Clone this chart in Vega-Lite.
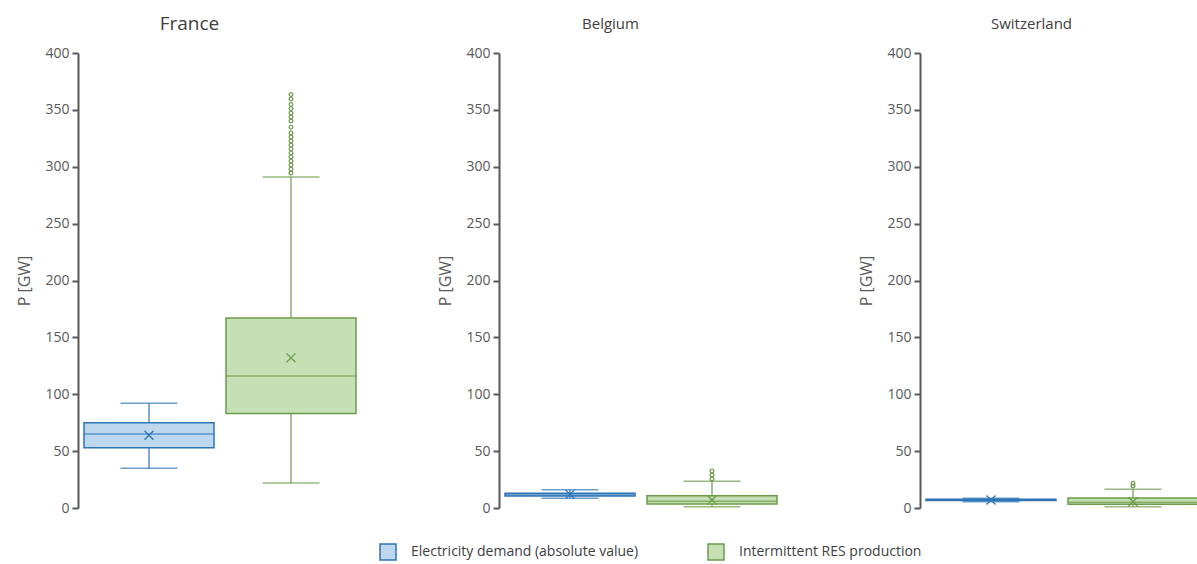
{
  "$schema": "https://vega.github.io/schema/vega-lite/v6.json",
  "padding": {"left": 16, "top": 15, "right": 0, "bottom": 5},
  "background": "white",
  "config": {
    "view": {"stroke": null},
    "font": "Open Sans",
    "axis": {"labelFont": "Open Sans", "titleFont": "Open Sans"},
    "legend": {"labelFont": "Open Sans", "title": null, "orient": "none", "legendX": 301, "legendY": 490, "direction": "horizontal", "symbolType": "square", "symbolSize": 256, "symbolStrokeWidth": 1.5, "labelFontSize": 14, "labelColor": "#404040", "labelLimit": 0, "columnPadding": 66, "labelOffset": 14}
  },
  "datasets": {
    "stats": [
      {"country": "France", "series": "Electricity demand (absolute value)", "lo": 35, "q1": 53, "med": 65, "q3": 75, "hi": 92, "mean": 64},
      {"country": "France", "series": "Intermittent RES production", "lo": 22, "q1": 83, "med": 116, "q3": 167, "hi": 291, "mean": 132},
      {"country": "Belgium", "series": "Electricity demand (absolute value)", "lo": 8.5, "q1": 10.5, "med": 11.5, "q3": 13, "hi": 16, "mean": 12},
      {"country": "Belgium", "series": "Intermittent RES production", "lo": 1, "q1": 3.5, "med": 6, "q3": 10.8, "hi": 23.5, "mean": 7},
      {"country": "Switzerland", "series": "Electricity demand (absolute value)", "lo": 5.5, "q1": 6.6, "med": 7.2, "q3": 7.8, "hi": 8.5, "mean": 7},
      {"country": "Switzerland", "series": "Intermittent RES production", "lo": 1, "q1": 3.2, "med": 5, "q3": 8.8, "hi": 16.5, "mean": 5.5}
    ],
    "outliers": [
      {"country": "France", "series": "Intermittent RES production", "value": 294.5},
      {"country": "France", "series": "Intermittent RES production", "value": 298},
      {"country": "France", "series": "Intermittent RES production", "value": 301.5},
      {"country": "France", "series": "Intermittent RES production", "value": 305},
      {"country": "France", "series": "Intermittent RES production", "value": 308.7},
      {"country": "France", "series": "Intermittent RES production", "value": 312.2},
      {"country": "France", "series": "Intermittent RES production", "value": 315.7},
      {"country": "France", "series": "Intermittent RES production", "value": 319.2},
      {"country": "France", "series": "Intermittent RES production", "value": 322.7},
      {"country": "France", "series": "Intermittent RES production", "value": 326.2},
      {"country": "France", "series": "Intermittent RES production", "value": 329.7},
      {"country": "France", "series": "Intermittent RES production", "value": 334.7},
      {"country": "France", "series": "Intermittent RES production", "value": 340.3},
      {"country": "France", "series": "Intermittent RES production", "value": 343.8},
      {"country": "France", "series": "Intermittent RES production", "value": 347.3},
      {"country": "France", "series": "Intermittent RES production", "value": 351.2},
      {"country": "France", "series": "Intermittent RES production", "value": 354.7},
      {"country": "France", "series": "Intermittent RES production", "value": 359.6},
      {"country": "France", "series": "Intermittent RES production", "value": 363.5},
      {"country": "Belgium", "series": "Intermittent RES production", "value": 25.5},
      {"country": "Belgium", "series": "Intermittent RES production", "value": 29},
      {"country": "Belgium", "series": "Intermittent RES production", "value": 32.5},
      {"country": "Switzerland", "series": "Intermittent RES production", "value": 19.3},
      {"country": "Switzerland", "series": "Intermittent RES production", "value": 21.7}
    ]
  },
  "spacing": 75,
  "hconcat": [
    {
      "title": {"text": "France", "fontSize": 19, "fontWeight": "normal", "color": "#404040", "frame": "bounds", "offset": 12},
      "width": 284, "height": 455,
      "layer": [
        {"data": {"name": "stats"}, "transform": [{"filter": "datum.country === 'France'"}], "mark": {"type": "rule", "strokeWidth": 1.2},
         "encoding": {"x": {"field": "series", "type": "nominal", "scale": {"domain": ["Electricity demand (absolute value)", "Intermittent RES production"], "paddingInner": 0, "paddingOuter": 0}, "axis": null},
                      "y": {"field": "lo", "type": "quantitative", "scale": {"domain": [0, 400], "nice": false}, "axis": {"values": [0,50,100,150,200,250,300,350,400], "title": "P [GW]", "grid": false, "domainColor": "#595959", "domainWidth": 2, "tickColor": "#595959", "tickWidth": 2, "tickSize": 6, "labelFontSize": 14, "labelColor": "#595959", "labelPadding": 3, "titleFontSize": 16, "titleFontWeight": "normal", "titleColor": "#595959", "titlePadding": 12}},
                      "y2": {"field": "hi"},
                      "color": {"field": "series", "type": "nominal", "scale": {"domain": ["Intermittent RES production", "Electricity demand (absolute value)"], "range": ["#6C9A4A", "#2E75B6"]}, "legend": null}}},
        {"data": {"name": "stats"}, "transform": [{"filter": "datum.country === 'France'"}], "mark": {"type": "bar", "size": 130, "strokeWidth": 1.5},
         "encoding": {"x": {"field": "series", "type": "nominal"}, "y": {"field": "q1", "type": "quantitative"}, "y2": {"field": "q3"},
                      "fill": {"field": "series", "type": "nominal", "scale": {"domain": ["Electricity demand (absolute value)", "Intermittent RES production"], "range": ["#BDD7EE", "#C5E0B4"]}},
                      "stroke": {"field": "series", "type": "nominal", "scale": {"domain": ["Electricity demand (absolute value)", "Intermittent RES production"], "range": ["#2E75B6", "#6C9A4A"]}}}},
        {"data": {"name": "stats"}, "transform": [{"filter": "datum.country === 'France'"}], "mark": {"type": "tick", "size": 130, "thickness": 1.5},
         "encoding": {"x": {"field": "series", "type": "nominal"}, "y": {"field": "med", "type": "quantitative"}, "color": {"field": "series", "type": "nominal", "legend": null}}},
        {"data": {"name": "stats"}, "transform": [{"filter": "datum.country === 'France'"}], "mark": {"type": "tick", "size": 57, "thickness": 1.5},
         "encoding": {"x": {"field": "series", "type": "nominal"}, "y": {"field": "lo", "type": "quantitative"}, "color": {"field": "series", "type": "nominal", "legend": null}}},
        {"data": {"name": "stats"}, "transform": [{"filter": "datum.country === 'France'"}], "mark": {"type": "tick", "size": 57, "thickness": 1.5},
         "encoding": {"x": {"field": "series", "type": "nominal"}, "y": {"field": "hi", "type": "quantitative"}, "color": {"field": "series", "type": "nominal", "legend": null}}},
        {"data": {"name": "stats"}, "transform": [{"filter": "datum.country === 'France'"}], "mark": {"type": "point", "shape": "M-1,-1L1,1M-1,1L1,-1", "size": 80, "filled": false, "strokeWidth": 1.3, "opacity": 1},
         "encoding": {"x": {"field": "series", "type": "nominal"}, "y": {"field": "mean", "type": "quantitative"}, "color": {"field": "series", "type": "nominal", "legend": null}}},
        {"data": {"name": "outliers"}, "transform": [{"filter": "datum.country === 'France'"}], "mark": {"type": "point", "shape": "circle", "size": 14, "filled": false, "strokeWidth": 1.2, "opacity": 1},
         "encoding": {"x": {"field": "series", "type": "nominal"}, "y": {"field": "value", "type": "quantitative"}, "color": {"field": "series", "type": "nominal", "legend": null}}}
      ]
    },
    {
      "title": {"text": "Belgium", "fontSize": 15, "fontWeight": "normal", "color": "#404040", "frame": "bounds", "offset": 14},
      "width": 284, "height": 455,
      "layer": [
        {"data": {"name": "stats"}, "transform": [{"filter": "datum.country === 'Belgium'"}], "mark": {"type": "rule", "strokeWidth": 1.2},
         "encoding": {"x": {"field": "series", "type": "nominal", "scale": {"domain": ["Electricity demand (absolute value)", "Intermittent RES production"], "paddingInner": 0, "paddingOuter": 0}, "axis": null},
                      "y": {"field": "lo", "type": "quantitative", "scale": {"domain": [0, 400], "nice": false}, "axis": {"values": [0,50,100,150,200,250,300,350,400], "title": "P [GW]", "grid": false, "domainColor": "#595959", "domainWidth": 2, "tickColor": "#595959", "tickWidth": 2, "tickSize": 6, "labelFontSize": 14, "labelColor": "#595959", "labelPadding": 3, "titleFontSize": 16, "titleFontWeight": "normal", "titleColor": "#595959", "titlePadding": 12}},
                      "y2": {"field": "hi"},
                      "color": {"field": "series", "type": "nominal", "scale": {"domain": ["Intermittent RES production", "Electricity demand (absolute value)"], "range": ["#6C9A4A", "#2E75B6"]}, "legend": null}}},
        {"data": {"name": "stats"}, "transform": [{"filter": "datum.country === 'Belgium'"}], "mark": {"type": "bar", "size": 130, "strokeWidth": 1.5},
         "encoding": {"x": {"field": "series", "type": "nominal"}, "y": {"field": "q1", "type": "quantitative"}, "y2": {"field": "q3"},
                      "fill": {"field": "series", "type": "nominal", "scale": {"domain": ["Electricity demand (absolute value)", "Intermittent RES production"], "range": ["#BDD7EE", "#C5E0B4"]}},
                      "stroke": {"field": "series", "type": "nominal", "scale": {"domain": ["Electricity demand (absolute value)", "Intermittent RES production"], "range": ["#2E75B6", "#6C9A4A"]}}}},
        {"data": {"name": "stats"}, "transform": [{"filter": "datum.country === 'Belgium'"}], "mark": {"type": "tick", "size": 130, "thickness": 1.5},
         "encoding": {"x": {"field": "series", "type": "nominal"}, "y": {"field": "med", "type": "quantitative"}, "color": {"field": "series", "type": "nominal", "legend": null}}},
        {"data": {"name": "stats"}, "transform": [{"filter": "datum.country === 'Belgium'"}], "mark": {"type": "tick", "size": 57, "thickness": 1.5},
         "encoding": {"x": {"field": "series", "type": "nominal"}, "y": {"field": "lo", "type": "quantitative"}, "color": {"field": "series", "type": "nominal", "legend": null}}},
        {"data": {"name": "stats"}, "transform": [{"filter": "datum.country === 'Belgium'"}], "mark": {"type": "tick", "size": 57, "thickness": 1.5},
         "encoding": {"x": {"field": "series", "type": "nominal"}, "y": {"field": "hi", "type": "quantitative"}, "color": {"field": "series", "type": "nominal", "legend": null}}},
        {"data": {"name": "stats"}, "transform": [{"filter": "datum.country === 'Belgium'"}], "mark": {"type": "point", "shape": "M-1,-1L1,1M-1,1L1,-1", "size": 80, "filled": false, "strokeWidth": 1.3, "opacity": 1},
         "encoding": {"x": {"field": "series", "type": "nominal"}, "y": {"field": "mean", "type": "quantitative"}, "color": {"field": "series", "type": "nominal", "legend": null}}},
        {"data": {"name": "outliers"}, "transform": [{"filter": "datum.country === 'Belgium'"}], "mark": {"type": "point", "shape": "circle", "size": 14, "filled": false, "strokeWidth": 1.2, "opacity": 1},
         "encoding": {"x": {"field": "series", "type": "nominal"}, "y": {"field": "value", "type": "quantitative"}, "color": {"field": "series", "type": "nominal", "legend": null}}}
      ]
    },
    {
      "title": {"text": "Switzerland", "fontSize": 15, "fontWeight": "normal", "color": "#404040", "frame": "bounds", "offset": 14},
      "width": 284, "height": 455,
      "layer": [
        {"data": {"name": "stats"}, "transform": [{"filter": "datum.country === 'Switzerland'"}], "mark": {"type": "rule", "strokeWidth": 1.2},
         "encoding": {"x": {"field": "series", "type": "nominal", "scale": {"domain": ["Electricity demand (absolute value)", "Intermittent RES production"], "paddingInner": 0, "paddingOuter": 0}, "axis": null},
                      "y": {"field": "lo", "type": "quantitative", "scale": {"domain": [0, 400], "nice": false}, "axis": {"values": [0,50,100,150,200,250,300,350,400], "title": "P [GW]", "grid": false, "domainColor": "#595959", "domainWidth": 2, "tickColor": "#595959", "tickWidth": 2, "tickSize": 6, "labelFontSize": 14, "labelColor": "#595959", "labelPadding": 3, "titleFontSize": 16, "titleFontWeight": "normal", "titleColor": "#595959", "titlePadding": 12}},
                      "y2": {"field": "hi"},
                      "color": {"field": "series", "type": "nominal", "scale": {"domain": ["Intermittent RES production", "Electricity demand (absolute value)"], "range": ["#6C9A4A", "#2E75B6"]}, "legend": null}}},
        {"data": {"name": "stats"}, "transform": [{"filter": "datum.country === 'Switzerland'"}], "mark": {"type": "bar", "size": 130, "strokeWidth": 1.5},
         "encoding": {"x": {"field": "series", "type": "nominal"}, "y": {"field": "q1", "type": "quantitative"}, "y2": {"field": "q3"},
                      "fill": {"field": "series", "type": "nominal", "scale": {"domain": ["Electricity demand (absolute value)", "Intermittent RES production"], "range": ["#BDD7EE", "#C5E0B4"]}},
                      "stroke": {"field": "series", "type": "nominal", "scale": {"domain": ["Electricity demand (absolute value)", "Intermittent RES production"], "range": ["#2E75B6", "#6C9A4A"]}}}},
        {"data": {"name": "stats"}, "transform": [{"filter": "datum.country === 'Switzerland'"}], "mark": {"type": "tick", "size": 130, "thickness": 1.5},
         "encoding": {"x": {"field": "series", "type": "nominal"}, "y": {"field": "med", "type": "quantitative"}, "color": {"field": "series", "type": "nominal", "legend": null}}},
        {"data": {"name": "stats"}, "transform": [{"filter": "datum.country === 'Switzerland'"}], "mark": {"type": "tick", "size": 57, "thickness": 1.5},
         "encoding": {"x": {"field": "series", "type": "nominal"}, "y": {"field": "lo", "type": "quantitative"}, "color": {"field": "series", "type": "nominal", "legend": null}}},
        {"data": {"name": "stats"}, "transform": [{"filter": "datum.country === 'Switzerland'"}], "mark": {"type": "tick", "size": 57, "thickness": 1.5},
         "encoding": {"x": {"field": "series", "type": "nominal"}, "y": {"field": "hi", "type": "quantitative"}, "color": {"field": "series", "type": "nominal", "legend": null}}},
        {"data": {"name": "stats"}, "transform": [{"filter": "datum.country === 'Switzerland'"}], "mark": {"type": "point", "shape": "M-1,-1L1,1M-1,1L1,-1", "size": 80, "filled": false, "strokeWidth": 1.3, "opacity": 1},
         "encoding": {"x": {"field": "series", "type": "nominal"}, "y": {"field": "mean", "type": "quantitative"}, "color": {"field": "series", "type": "nominal", "legend": null}}},
        {"data": {"name": "outliers"}, "transform": [{"filter": "datum.country === 'Switzerland'"}], "mark": {"type": "point", "shape": "circle", "size": 14, "filled": false, "strokeWidth": 1.2, "opacity": 1},
         "encoding": {"x": {"field": "series", "type": "nominal"}, "y": {"field": "value", "type": "quantitative"}, "color": {"field": "series", "type": "nominal", "legend": null}}}
      ]
    }
  ]
}
